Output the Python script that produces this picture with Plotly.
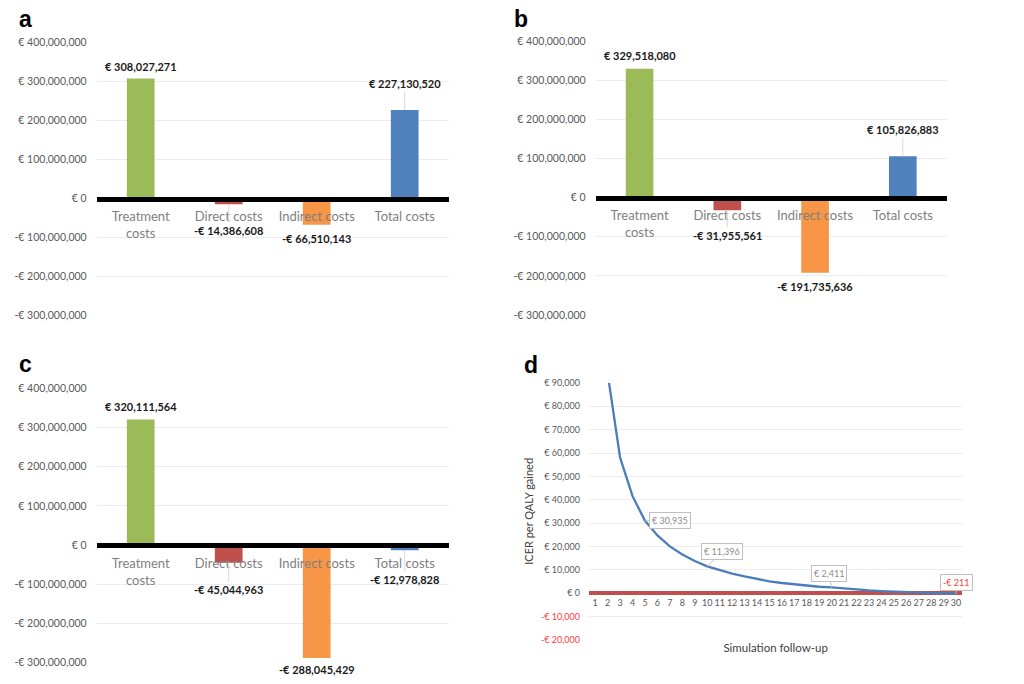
import plotly.graph_objects as go

categories = ["Treatment<br>costs", "Direct costs", "Indirect costs", "Total costs"]
costs_a = [308027271, -14386608, -66510143, 227130520]
costs_b = [329518080, -31955561, -191735636, 105826883]
costs_c = [320111564, -45044963, -288045429, -12978828]
cost_ticks = [400000000, 300000000, 200000000, 100000000, 0, -100000000, -200000000, -300000000]

years = [str(y) for y in range(1, 31)]
# year 1 is far off the top of the axis in the original
icer = [None, 94000, 58000, 41500, 30935, 24700, 20000, 16500, 13700, 11396,
        9800, 8300, 7100, 5900, 5000, 4300, 3700, 3100, 2700, 2411,
        1900, 1500, 1100, 800, 550, 300, 100, -50, -130, -211]
icer_ticks = [90000, 80000, 70000, 60000, 50000, 40000, 30000, 20000, 10000, 0, -10000, -20000]
icer_labelled = ["5", "10", "20", "30"]

BAR_COLORS = ["#9bbb59", "#c0504d", "#f79646", "#4f81bd"]
W, H = 1024, 684
FONT = "Lato"


def euro(v):
    return f"-€ {-v:,}" if v < 0 else f"€ {v:,}"


def xdom(left, right):
    return [left / W, right / W]


def ydom(top, bottom):
    return [1 - bottom / H, 1 - top / H]


fig = go.Figure()


def cost_panel(n, values, left, right, top, bottom, offsets):
    suffix = str(n)
    fig.add_trace(go.Bar(x=categories, y=values, marker=dict(color=BAR_COLORS, line=dict(width=0)),
                         xaxis="x" + suffix, yaxis="y" + suffix, hoverinfo="x+y"))
    lo, hi = cost_ticks[-1], cost_ticks[0]
    zero = 1 - (top + (hi / (hi - lo)) * (bottom - top)) / H
    fig.update_layout({
        "xaxis" + suffix: dict(domain=xdom(left, right), anchor="free", position=zero, type="category",
                               range=[-0.5, len(categories) - 0.5], automargin=False,
                               showline=True, linecolor="black", linewidth=5, ticks="", showgrid=False,
                               ticklabelstandoff=4, tickfont=dict(family=FONT, size=13, color="#7f7f7f")),
        "yaxis" + suffix: dict(domain=ydom(top, bottom), anchor="x" + suffix, range=[lo, hi], automargin=False,
                               tickvals=cost_ticks, ticktext=[euro(t) for t in cost_ticks],
                               gridcolor="#ececec", gridwidth=1, zeroline=False, ticks="",
                               ticklabelstandoff=9, tickfont=dict(family=FONT, size=10.5, color="#595959")),
    })
    for cat, v, off in zip(categories, values, offsets):
        # offset is the pixel distance from the bar end to the label, with a leader line if long
        long_leader = abs(off) > 20
        fig.add_annotation(x=cat, y=v, xref="x" + suffix, yref="y" + suffix, text="<b>" + euro(v) + "</b>",
                           showarrow=True, ax=0, ay=off, arrowhead=0, arrowwidth=1,
                           arrowcolor="#d9d9d9" if long_leader else "rgba(0,0,0,0)",
                           font=dict(family=FONT, size=11, color="#1a1a1a"))


cost_panel(1, costs_a, 96.7, 448.7, 42.7, 315.7, [-12.5, 26, 13.5, -27])
cost_panel(2, costs_b, 595.7, 946.7, 41.3, 315, [-13, 25, 13.5, -27])
cost_panel(3, costs_c, 96.7, 448.7, 388.3, 662.7, [-13, 26.5, 11.5, 29])

# panel d
d_left, d_right, d_top, d_bottom = 589, 962.3, 383, 639.7
d_hi, d_lo = icer_ticks[0], icer_ticks[-1]
d_zero = 1 - (d_top + (d_hi / (d_hi - d_lo)) * (d_bottom - d_top)) / H
fig.add_trace(go.Scatter(x=years, y=icer, mode="lines", line=dict(color="#4a7ebb", width=2.3),
                         xaxis="x4", yaxis="y4", hoverinfo="x+y"))
fig.update_layout(
    xaxis4=dict(domain=xdom(d_left, d_right), anchor="free", position=d_zero, type="category",
                range=[-0.5, len(years) - 0.5], automargin=False,
                showgrid=False, ticks="", ticklabelstandoff=3, tickangle=0, dtick=1,
                tickfont=dict(family=FONT, size=9, color="#595959"),
                title=dict(text="Simulation follow-up", standoff=36,
                           font=dict(family=FONT, size=11.5, color="#404040"))),
    yaxis4=dict(domain=ydom(d_top, d_bottom), anchor="x4", range=[d_lo, d_hi], automargin=False,
                tickvals=icer_ticks,
                ticktext=[f'<span style="color:#ff3b3b">{euro(t)}</span>' if t < 0 else euro(t) for t in icer_ticks],
                gridcolor="#ececec", gridwidth=1, zeroline=True, zerolinecolor="#c0504d", zerolinewidth=4,
                ticks="", ticklabelstandoff=8, tickfont=dict(family=FONT, size=9, color="#595959"),
                title=dict(text="ICER per QALY gained", standoff=5,
                           font=dict(family=FONT, size=11, color="#404040"))),
)
# box offsets from the labelled point, in pixels
for yr, (ax, ay) in zip(icer_labelled, [(25, 0), (15, -14.5), (-3, -14), (0, -11)]):
    # annotations on a category axis take the serial number, not the label
    pos = years.index(yr)
    v = icer[pos]
    fig.add_annotation(x=pos, y=v, xref="x4", yref="y4", text=euro(v), showarrow=True, ax=ax, ay=ay,
                       arrowhead=0, arrowwidth=1, arrowcolor="#bfbfbf", bgcolor="white",
                       bordercolor="#bfbfbf", borderwidth=1, borderpad=2,
                       font=dict(family=FONT, size=9, color="#ff3b3b" if v < 0 else "#8c8c8c"))

# panel letters
for letter, px, py in [("a", 25, 19), ("b", 521, 19), ("c", 25, 364), ("d", 531, 365)]:
    fig.add_annotation(x=px / W, y=1 - py / H, xref="paper", yref="paper", text="<b>" + letter + "</b>",
                       xanchor="center", yanchor="middle",
                       showarrow=False, font=dict(family="Liberation Sans", size=23, color="black"))

fig.update_layout(width=W, height=H, margin=dict(l=0, r=0, t=0, b=0), bargap=0.685, showlegend=False,
                  paper_bgcolor="white", plot_bgcolor="white")
# the browser's default body margin would push the whole chart in by 8px
fig.write_html("out.html", config=dict(displayModeBar=False), post_script="document.body.style.margin='0';")
